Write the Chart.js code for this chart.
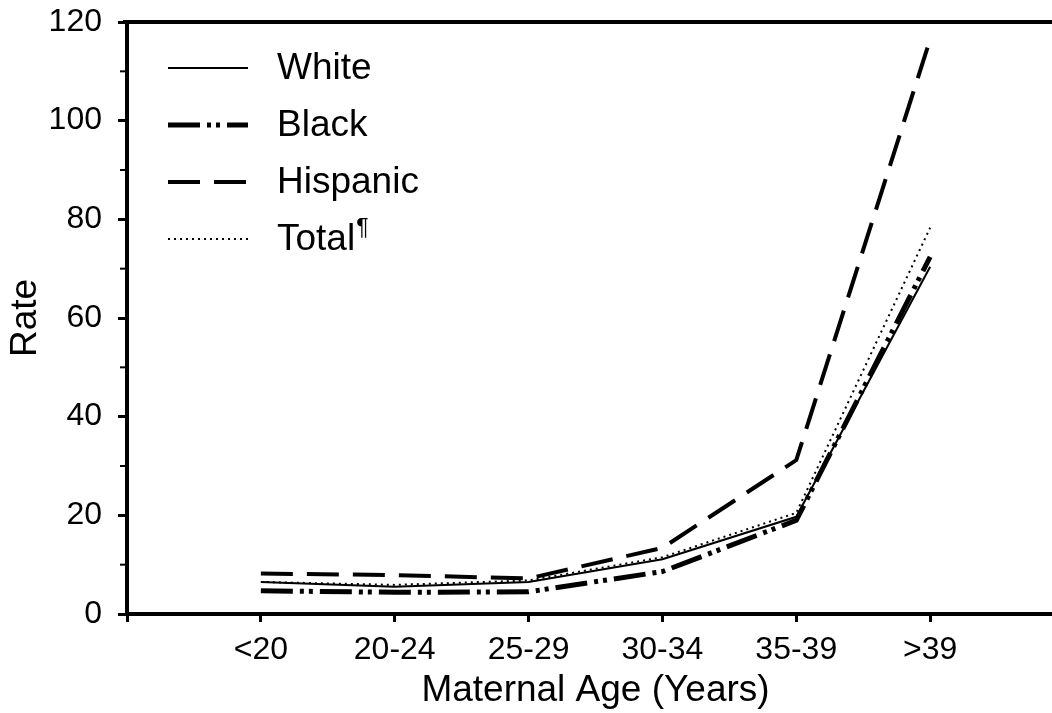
<!DOCTYPE html>
<html>
<head>
<meta charset="utf-8">
<script src="https://cdn.jsdelivr.net/npm/chart.js"></script>
<style>
  body { margin: 0; overflow: hidden; background: #fff; }
  #wrap { width: 1066px; height: 713px; }
</style>
</head>
<body>
<div id="wrap"><canvas id="tauxChart" width="1066" height="713"></canvas></div>
<script>
// categories d'age
var ages = ['<20', '20-24', '25-29', '30-34', '35-39', '>39'];

// series
var white    = [6.5, 5.5, 6.5, 11.1, 19.7, 70.4];
var black    = [4.7, 4.4, 4.5, 8.6, 19.0, 72.4];
var hispanic = [8.2, 7.9, 7.2, 13.4, 31.2, 116.5];
var total    = [6.5, 5.9, 6.8, 11.5, 20.5, 78.3];

var yTicks = [0, 20, 40, 60, 80, 100, 120];
var yMinor = [10, 30, 50, 70, 90, 110];

var police = '"Liberation Sans", Arial, sans-serif';

function pts(valeurs) {
    return valeurs.map((v, i) => ({ x: i + 1, y: v }));
}

var series = [
    { label: 'White',    data: white,    width: 2,   dash: [] },
    { label: 'Black',    data: black,    width: 5,   dash: [32, 7, 4, 5, 4, 7] },
    { label: 'Hispanic', data: hispanic, width: 4,   dash: [32, 14] },
    { label: 'Total',    data: total,    width: 2,   dash: [2, 4] }
];

// legende + cadre + petites graduations
var decor = {
    id: 'decor',
    afterDraw(chart) {
        var ctx = chart.ctx;
        var area = chart.chartArea;
        var y = chart.scales.y;

        ctx.save();
        ctx.strokeStyle = '#000';
        ctx.lineCap = 'butt';

        // ligne du haut
        ctx.lineWidth = 4;
        ctx.beginPath();
        ctx.moveTo(area.left - 4, area.top);
        ctx.lineTo(area.right + 20, area.top);
        ctx.stroke();

        // graduations mineures
        ctx.lineWidth = 2;
        yMinor.forEach(v => {
            var py = y.getPixelForValue(v);
            ctx.beginPath();
            ctx.moveTo(area.left - 7, py);
            ctx.lineTo(area.left, py);
            ctx.stroke();
        });

        // legende
        var x0 = area.left + 41, x1 = area.left + 121;
        series.forEach((s, i) => {
            var ly = area.top + 46 + i * 57;
            ctx.lineWidth = s.width;
            ctx.setLineDash(s.dash);
            ctx.beginPath();
            ctx.moveTo(x0, ly);
            ctx.lineTo(x1, ly);
            ctx.stroke();
            ctx.setLineDash([]);
            ctx.fillStyle = '#000';
            ctx.font = '37px ' + police;
            ctx.textBaseline = 'alphabetic';
            ctx.textAlign = 'left';
            ctx.fillText(s.label, area.left + 150, ly + 11);
            if (s.label == 'Total') {
                var w = ctx.measureText(s.label).width;
                ctx.font = '23px ' + police;
                ctx.fillText('\u00B6', area.left + 151 + w, ly - 4);
            }
        });
        ctx.restore();
    }
};

var ctx = document.getElementById('tauxChart').getContext('2d');
var chart = new Chart(ctx, {
    type: 'line',
    data: {
        datasets: series.map(s => ({
            label: s.label,
            data: pts(s.data),
            borderColor: '#000',
            borderWidth: s.width,
            borderDash: s.dash,
            borderCapStyle: 'butt',
            pointRadius: 0,
            tension: 0,
            fill: false
        }))
    },
    options: {
        responsive: false,
        animation: false,
        layout: { padding: { top: 22, right: 2, left: 0, bottom: 0 } },
        plugins: { legend: { display: false }, tooltip: { enabled: false } },
        scales: {
            x: {
                type: 'linear',
                min: 0,
                max: 7,
                afterBuildTicks: s => { s.ticks = [0, 1, 2, 3, 4, 5, 6].map(v => ({ value: v })); },
                afterFit: s => { s.height = 99; s.paddingLeft = 0; s.paddingRight = 0; },
                ticks: {
                    stepSize: 1,
                    autoSkip: false,
                    maxRotation: 0,
                    color: '#000',
                    padding: 9,
                    font: { family: police, size: 32 },
                    callback: v => (v >= 1 && v <= 6) ? ages[v - 1] : ''
                },
                grid: { drawOnChartArea: false, drawTicks: true, tickLength: 8, tickWidth: 3, tickColor: '#000' },
                border: { display: true, color: '#000', width: 4 },
                title: {
                    display: true,
                    text: 'Maternal Age (Years)',
                    color: '#000',
                    font: { family: police, size: 37 },
                    padding: { top: 0, bottom: 0 }
                }
            },
            y: {
                min: 0,
                max: 120,
                afterBuildTicks: s => { s.ticks = yTicks.map(v => ({ value: v })); },
                afterFit: s => { s.width = 127; s.paddingTop = 0; s.paddingBottom = 0; },
                ticks: {
                    color: '#000',
                    padding: 16,
                    font: { family: police, size: 32 }
                },
                grid: { drawOnChartArea: false, drawTicks: true, tickLength: 9, tickWidth: 3, tickColor: '#000' },
                border: { display: true, color: '#000', width: 4 },
                title: {
                    display: true,
                    text: 'Rate',
                    color: '#000',
                    font: { family: police, size: 37 },
                    padding: { top: 4, bottom: 0 }
                }
            }
        }
    },
    plugins: [decor]
});
</script>
</body>
</html>
